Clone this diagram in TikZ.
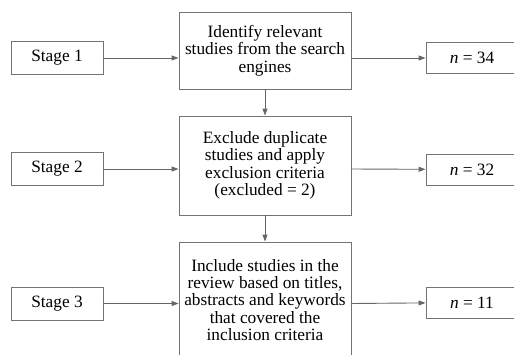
\documentclass[tikz,border=0pt]{standalone}
\usepackage{fontspec}
\setmainfont{Liberation Serif}
\usetikzlibrary{positioning,arrows.meta}

\begin{document}
\begin{tikzpicture}[x=1pt,y=-1pt,
		every node/.style={draw=black!55,line width=0.9pt,font=\fontsize{17.3}{17.4}\selectfont},
		stagebox/.style={minimum width=92pt,minimum height=33pt},
		taskbox/.style={minimum width=172pt,inner xsep=2pt,align=center},
		countbox/.style={minimum width=92pt,minimum height=31pt},
		flow/.style={draw=black!60,line width=0.9pt,-{Triangle[length=7pt,width=5pt]}}]
		\useasboundingbox (0,0) rectangle (514,354);

		% Stages
		\node[stagebox] (s1) at (57,58) {Stage 1};
		\node[stagebox] (s2) at (57,169) {Stage 2};
		\node[stagebox] (s3) at (57,303.5) {Stage 3};

		% Steps
		\node[taskbox,minimum height=77pt] (t1) at (265,50.5) {Identify relevant\\ studies from the search\\ engines};
		\node[taskbox,minimum height=99pt] (t2) at (265,165.5) {Exclude duplicate\\ studies and apply\\ exclusion criteria\\ (excluded = 2)};
		\node[taskbox,minimum height=116pt] (t3) at (265,300) {Include studies in the\\ review based on titles,\\ abstracts and keywords\\ that covered the\\ inclusion criteria};

		% Counts
		\node[countbox] (n1) at (472,58) {\textit{n} = 34};
		\node[countbox] (n2) at (472,169.5) {\textit{n} = 32};
		\node[countbox] (n3) at (472,302.5) {\textit{n} = 11};

		\draw[flow] (s1) -- (s1 -| t1.west);
		\draw[flow] (s1 -| t1.east) -- (n1);
		\draw[flow] (s2) -- (s2 -| t2.west);
		\draw[flow] (s2 -| t2.east) -- (n2);
		\draw[flow] (s3) -- (s3 -| t3.west);
		\draw[flow] (s3 -| t3.east) -- (n3);

		\draw[flow] (t1) -- (t2);
		\draw[flow] (t2) -- (t3);
	\end{tikzpicture}
\end{document}
